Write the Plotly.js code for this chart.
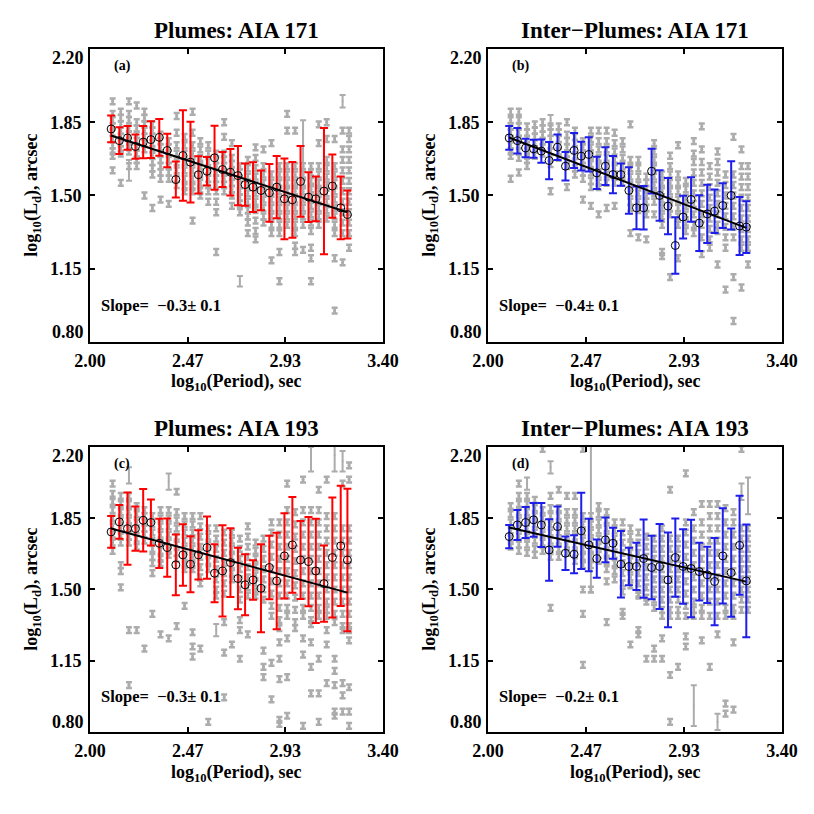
<!DOCTYPE html>
<html><head><meta charset="utf-8">
<script src="https://cdn.plot.ly/plotly-3.0.1.min.js"></script>
<style>html,body{margin:0;padding:0;background:#fff}#chart{width:814px;height:814px}</style>
</head><body><div id="chart"></div>
<script>
// ---------- DATA ----------
const binX = [2.101, 2.140, 2.179, 2.217, 2.254, 2.291, 2.331, 2.369, 2.410, 2.444, 2.480, 2.518, 2.559, 2.595, 2.633, 2.671, 2.707, 2.741, 2.779, 2.817, 2.857, 2.892, 2.929, 2.967, 3.006, 3.044, 3.079, 3.118, 3.158, 3.198, 3.230];
const grayX = [2.108, 2.147, 2.186, 2.223, 2.260, 2.298, 2.337, 2.376, 2.414, 2.452, 2.490, 2.527, 2.565, 2.603, 2.641, 2.678, 2.716, 2.754, 2.791, 2.829, 2.867, 2.905, 2.942, 2.980, 3.018, 3.056, 3.093, 3.131, 3.169, 3.207, 3.238];

// Panel (a) Plumes AIA 171
const aBinY = [1.818,1.762,1.775,1.734,1.755,1.767,1.778,1.715,1.576,1.691,1.659,1.599,1.616,1.680,1.624,1.611,1.595,1.552,1.540,1.524,1.513,1.540,1.484,1.479,1.567,1.492,1.484,1.521,1.545,1.441,1.409];
const aBinErr = [0.064,0.064,0.057,0.058,0.077,0.088,0.088,0.080,0.086,0.216,0.193,0.089,0.068,0.153,0.084,0.111,0.142,0.101,0.119,0.095,0.138,0.149,0.193,0.181,0.169,0.119,0.107,0.302,0.151,0.150,0.115];
const aGrayY = [
 [1.95,1.89,1.86,1.83,1.80,1.77,1.74,1.71,1.69,1.62],
 [1.90,1.87,1.84,1.81,1.78,1.75,1.72,1.70,1.56],
 [1.95,1.89,1.86,1.82,1.79,1.76,1.73,1.71,1.64],
 [1.93,1.85,1.82,1.79,1.76,1.73,1.70,1.67,1.64],
 [1.90,1.87,1.84,1.81,1.78,1.75,1.72,1.50],
 [1.84,1.81,1.78,1.75,1.72,1.69,1.66,1.63,1.60,1.44],
 [1.79,1.76,1.73,1.70,1.67,1.64,1.61,1.58,1.48],
 [1.76,1.73,1.70,1.67,1.64,1.61,1.58,1.46],
 [1.88,1.80,1.74,1.70,1.66,1.62,1.58,1.55],
 [1.78,1.74,1.70,1.66,1.62,1.58,1.54,1.52],
 [1.90,1.80,1.74,1.70,1.66,1.62,1.58,1.54,1.52,1.38],
 [1.76,1.72,1.68,1.64,1.60,1.56,1.52,1.50],
 [1.74,1.70,1.66,1.62,1.58,1.55,1.52,1.47],
 [1.70,1.67,1.64,1.61,1.58,1.55,1.52,1.47,1.42,1.23],
 [1.85,1.78,1.70,1.67,1.64,1.61,1.58,1.55,1.52],
 [1.75,1.68,1.65,1.62,1.59,1.56,1.53,1.50,1.45],
 [1.64,1.61,1.58,1.55,1.52,1.49,1.46,1.42],
 [1.67,1.63,1.59,1.55,1.51,1.47,1.43,1.40,1.37,1.32],
 [1.73,1.68,1.63,1.59,1.55,1.51,1.47,1.43,1.38,1.33,1.29],
 [1.72,1.64,1.60,1.56,1.52,1.48,1.44,1.40,1.37],
 [1.75,1.60,1.56,1.52,1.48,1.44,1.40,1.36,1.32,1.19],
 [1.64,1.60,1.56,1.52,1.48,1.44,1.40,1.36,1.32,1.23,1.09],
 [1.89,1.81,1.64,1.60,1.56,1.52,1.48,1.44,1.40,1.36],
 [1.81,1.64,1.60,1.56,1.52,1.48,1.44,1.40,1.36,1.32,1.26,1.23],
 [1.64,1.60,1.56,1.52,1.48,1.44,1.40,1.36,1.24],
 [1.64,1.61,1.57,1.53,1.49,1.45,1.41,1.37,1.33,1.25,1.20,1.09],
 [1.84,1.75,1.64,1.60,1.56,1.52,1.48,1.44,1.40,1.36],
 [1.85,1.77,1.67,1.63,1.59,1.55,1.51,1.47,1.43,1.39],
 [1.77,1.64,1.60,1.56,1.52,1.48,1.44,1.40,1.36,1.32,1.20,0.95],
 [1.81,1.72,1.67,1.62,1.57,1.52,1.47,1.42,1.37,1.32,1.18],
 [1.81,1.77,1.72,1.67,1.62,1.57,1.52,1.47,1.42,1.37,1.32,1.25]
];
const aLongX = [2.186, 2.716, 3.018, 3.207];
const aLongY = [1.62, 1.09, 1.72, 1.95];
const aLongErr = [0.05, 0.025, 0.14, 0.03];

// Panel (b) Inter-Plumes AIA 171
const bBinY = [1.775,1.762,1.727,1.723,1.712,1.667,1.731,1.640,1.715,1.688,1.696,1.608,1.640,1.600,1.600,1.524,1.441,1.441,1.616,1.500,1.449,1.261,1.397,1.481,1.368,1.412,1.425,1.452,1.500,1.354,1.349];
const bBinErr = [0.057,0.061,0.044,0.043,0.056,0.089,0.061,0.068,0.084,0.069,0.082,0.077,0.090,0.089,0.053,0.111,0.102,0.104,0.107,0.121,0.134,0.135,0.102,0.106,0.133,0.139,0.104,0.107,0.163,0.139,0.124];
const bGrayY = [
 [1.90,1.86,1.83,1.80,1.77,1.74,1.71,1.69,1.58],
 [1.90,1.86,1.83,1.80,1.77,1.74,1.71,1.68,1.61],
 [1.83,1.80,1.77,1.74,1.71,1.69,1.67,1.64],
 [1.84,1.81,1.78,1.75,1.72,1.69],
 [1.85,1.82,1.79,1.76,1.73,1.70],
 [1.83,1.80,1.77,1.74,1.71,1.68,1.65,1.52],
 [1.83,1.80,1.77,1.74,1.71,1.68],
 [1.85,1.79,1.76,1.73,1.70,1.67,1.64,1.54],
 [1.81,1.78,1.75,1.72,1.69,1.66,1.63,1.60],
 [1.76,1.73,1.70,1.67,1.64,1.61,1.58,1.48],
 [1.81,1.77,1.73,1.69,1.65,1.61,1.57,1.54,1.45],
 [1.81,1.76,1.72,1.68,1.64,1.60,1.56,1.54,1.41],
 [1.81,1.76,1.72,1.68,1.64,1.60,1.56,1.44],
 [1.80,1.75,1.71,1.67,1.63,1.59,1.56,1.45],
 [1.76,1.72,1.68,1.64,1.60,1.56],
 [1.84,1.67,1.63,1.59,1.55,1.51,1.47,1.44,1.32],
 [1.67,1.63,1.59,1.55,1.51,1.47,1.43,1.30],
 [1.59,1.56,1.53,1.50,1.47,1.44,1.41,1.29],
 [1.75,1.71,1.67,1.63,1.59,1.55,1.51,1.47,1.41],
 [1.60,1.56,1.52,1.48,1.44,1.40,1.36,1.23,1.21],
 [1.69,1.64,1.60,1.56,1.52,1.48,1.44,1.41,1.11],
 [1.74,1.60,1.56,1.52,1.48,1.44,1.40,1.36,1.20],
 [1.57,1.53,1.49,1.45,1.41,1.37,1.33],
 [1.76,1.70,1.66,1.61,1.56,1.51,1.46,1.41,1.36,1.32],
 [1.83,1.72,1.66,1.61,1.56,1.51,1.46,1.41,1.36,1.30,1.22],
 [1.64,1.59,1.54,1.49,1.44,1.39,1.34,1.29,1.25],
 [1.71,1.66,1.61,1.56,1.51,1.46,1.41,1.36,1.33,1.17],
 [1.60,1.55,1.50,1.45,1.40,1.35,1.30,1.25,1.05],
 [1.78,1.60,1.55,1.50,1.45,1.40,1.35,1.30,1.11,0.90],
 [1.72,1.64,1.59,1.54,1.49,1.44,1.39,1.34,1.29,1.25,1.06],
 [1.64,1.59,1.54,1.49,1.44,1.39,1.34,1.29,1.25,1.17]
];
const bLongX = [2.298];
const bLongY = [1.86];
const bLongErr = [0.025];

// Panel (c) Plumes AIA 193
const cBinY = [1.783,1.832,1.799,1.799,1.840,1.829,1.727,1.706,1.621,1.670,1.624,1.670,1.706,1.580,1.591,1.632,1.554,1.523,1.547,1.506,1.608,1.542,1.665,1.719,1.645,1.637,1.591,1.529,1.657,1.714,1.645];
const cBinErr = [0.078,0.083,0.178,0.109,0.153,0.113,0.121,0.143,0.149,0.151,0.138,0.121,0.153,0.142,0.224,0.169,0.151,0.150,0.097,0.216,0.156,0.237,0.209,0.235,0.192,0.219,0.256,0.187,0.295,0.295,0.350];
const cGrayY = [
 [2.02,1.97,1.93,1.89,1.85,1.81,1.77,1.73,1.69],
 [1.96,1.92,1.88,1.84,1.80,1.76,1.73,1.62,1.59,1.51],
 [1.96,1.92,1.88,1.84,1.80,1.76,1.73,1.30,1.03],
 [1.91,1.87,1.83,1.79,1.75,1.71,1.30],
 [1.89,1.86,1.83,1.80,1.77,1.74,1.21],
 [1.86,1.82,1.78,1.74,1.70,1.66,1.63,1.58,1.38],
 [1.89,1.85,1.81,1.77,1.73,1.69,1.65,1.63,1.28],
 [1.89,1.85,1.81,1.77,1.73,1.69,1.67,1.26],
 [1.98,1.88,1.84,1.80,1.76,1.72,1.68,1.65,1.32],
 [1.86,1.82,1.78,1.74,1.70,1.66,1.62,1.60,1.42],
 [1.86,1.82,1.78,1.74,1.70,1.66,1.62,1.60,1.29,1.22,1.17],
 [1.86,1.81,1.76,1.71,1.66,1.61,1.56,1.53,1.21],
 [1.80,1.76,1.72,1.68,1.64,1.60,0.85],
 [1.80,1.75,1.70,1.65,1.60,1.55,1.50,1.47],
 [1.78,1.73,1.68,1.63,1.58,1.53,1.48,1.34,1.19,0.97],
 [1.78,1.74,1.70,1.66,1.62,1.58,1.55,1.23],
 [1.75,1.70,1.65,1.60,1.55,1.50,1.45,1.35,1.30,1.16],
 [1.81,1.76,1.71,1.66,1.61,1.56,1.51,1.47,1.28],
 [1.73,1.69,1.65,1.61,1.57,1.53,1.49,1.47],
 [1.75,1.70,1.65,1.60,1.55,1.50,1.45,1.20,1.12,1.07],
 [1.83,1.78,1.72,1.66,1.60,1.54,1.48,1.42,1.37,1.14,0.96],
 [1.83,1.77,1.71,1.65,1.59,1.53,1.47,1.41,1.35,1.31,1.24,1.16,1.06,0.86,0.84],
 [2.02,1.89,1.83,1.77,1.71,1.65,1.59,1.53,1.47,1.41,1.37,1.26,1.07,0.88],
 [1.88,1.82,1.76,1.70,1.64,1.58,1.52,1.46,1.40,1.34,1.31],
 [2.04,1.89,1.83,1.77,1.71,1.65,1.59,1.53,1.47,1.41,1.37,1.26,1.18,0.83],
 [1.89,1.83,1.77,1.71,1.65,1.59,1.53,1.47,1.41,1.35,1.33,1.24,1.12,0.99],
 [1.99,1.89,1.83,1.77,1.71,1.65,1.59,1.53,1.47,1.41,1.37,1.16,0.99,0.85],
 [2.04,1.86,1.80,1.74,1.68,1.62,1.56,1.50,1.44,1.40,1.37,1.30,1.23,1.04],
 [1.86,1.80,1.74,1.68,1.62,1.56,1.50,1.44,1.38,1.34,1.16,1.10,1.03,0.90,0.88],
 [2.02,1.80,1.74,1.68,1.62,1.56,1.50,1.44,1.38,1.32,1.30,1.04,0.98,0.90],
 [2.11,2.04,1.80,1.74,1.68,1.62,1.56,1.50,1.44,1.38,1.32,1.30,1.25,1.02,0.90,0.83]
];
const cLongX = [2.186, 2.376, 2.603, 3.056, 3.169, 3.207];
const cLongY = [2.06, 2.03, 1.30, 2.14, 2.16, 2.13];
const cLongErr = [0.04, 0.04, 0.03, 0.06, 0.08, 0.05];

// Panel (d) Inter-Plumes AIA 193
const dBinY = [1.760,1.817,1.829,1.842,1.817,1.694,1.809,1.678,1.673,1.788,1.719,1.652,1.744,1.727,1.624,1.613,1.613,1.652,1.608,1.613,1.547,1.657,1.613,1.603,1.588,1.572,1.539,1.665,1.583,1.717,1.542];
const dBinErr = [0.057,0.074,0.076,0.083,0.108,0.151,0.099,0.082,0.093,0.187,0.129,0.094,0.110,0.076,0.163,0.092,0.116,0.192,0.156,0.209,0.233,0.192,0.183,0.239,0.142,0.138,0.214,0.234,0.217,0.243,0.277];
const dGrayY = [
 [1.91,1.87,1.83,1.79,1.75,1.71],
 [2.02,1.96,1.92,1.88,1.84,1.80,1.76,1.72,1.69],
 [1.96,1.92,1.88,1.84,1.80,1.76,1.72,1.68],
 [1.94,1.90,1.86,1.82,1.78,1.74,1.70,1.67],
 [2.19,1.89,1.85,1.81,1.77,1.73,1.69],
 [1.96,1.90,1.86,1.82,1.78,1.74,1.70,1.66,1.41],
 [1.99,1.90,1.86,1.82,1.78,1.74,1.70,1.66],
 [1.96,1.88,1.84,1.80,1.76,1.72,1.68],
 [1.96,1.88,1.84,1.80,1.76,1.72,1.68,1.64],
 [2.19,1.86,1.82,1.78,1.74,1.70,1.66,1.62,1.50,1.38,1.13],
 [1.86,1.82,1.78,1.74,1.70,1.66,1.62,1.50],
 [1.91,1.87,1.83,1.79,1.75,1.71,1.67,1.64],
 [1.88,1.84,1.80,1.76,1.72,1.68,1.64,1.60,1.54,1.34],
 [1.83,1.79,1.75,1.71,1.67,1.63,1.59,1.55],
 [1.83,1.78,1.73,1.68,1.63,1.58,1.53,1.49,1.39,1.37],
 [1.80,1.76,1.72,1.68,1.64,1.60,1.56,1.52,1.23],
 [1.78,1.73,1.68,1.63,1.58,1.53,1.48,1.47,1.30,1.28],
 [1.76,1.71,1.66,1.61,1.56,1.51,1.46,1.44,1.16],
 [1.75,1.70,1.65,1.60,1.55,1.50,1.45,1.41,1.21,1.16],
 [1.80,1.75,1.70,1.65,1.60,1.55,1.50,1.45,1.40,1.37,1.26,1.16],
 [1.99,1.75,1.70,1.65,1.60,1.55,1.50,1.45,1.40,1.37,1.08,0.85],
 [1.75,1.70,1.65,1.60,1.55,1.50,1.45,1.40,1.37,1.12],
 [2.07,1.83,1.78,1.72,1.66,1.60,1.54,1.48,1.42,1.37,1.27,1.22],
 [1.88,1.80,1.74,1.68,1.62,1.56,1.50,1.44,1.40,1.37],
 [1.92,1.83,1.77,1.71,1.65,1.59,1.53,1.47,1.41,1.37,1.25],
 [1.92,1.86,1.80,1.74,1.68,1.62,1.56,1.50,1.44,1.37,1.12],
 [1.92,1.86,1.80,1.74,1.68,1.62,1.56,1.50,1.44,1.37,1.28],
 [1.90,1.83,1.77,1.71,1.65,1.59,1.53,1.47,1.41,1.37,0.94,0.89],
 [1.88,1.83,1.77,1.71,1.65,1.59,1.53,1.47,1.41,1.37,1.24,0.91],
 [2.19,1.80,1.75,1.70,1.65,1.60,1.55,1.50,1.45,1.40],
 [1.80,1.75,1.70,1.65,1.60,1.55,1.50,1.45,1.40]
];
const dLongX = [2.186, 2.298, 2.490, 2.980, 3.093, 3.207, 3.238];
const dLongY = [2.02, 2.10, 1.845, 0.93, 0.85, 1.98, 1.96];
const dLongErr = [0.03, 0.03, 0.36, 0.10, 0.04, 0.04, 0.09];

// Linear fits
const fitX = [2.10, 3.23];
const fitSlope = [-0.3245, -0.3823, -0.2784, -0.2351];
const fitIntercept = [2.468, 2.580, 2.384, 2.298];

const panelTitles = ['Plumes: AIA 171', 'Inter\u2212Plumes: AIA 171', 'Plumes: AIA 193', 'Inter\u2212Plumes: AIA 193'];
const panelLetters = ['(a)', '(b)', '(c)', '(d)'];
const slopeTexts = ['\u22120.3\u00b1 0.1', '\u22120.4\u00b1 0.1', '\u22120.3\u00b1 0.1', '\u22120.2\u00b1 0.1'];
const xTickVals = [2.0, 2.4667, 2.9333, 3.4];
const xTickText = ['2.00', '2.47', '2.93', '3.40'];
const yTickVals = [1.15, 1.5, 1.85];
const yTickText = ['1.15', '1.50', '1.85'];
const yEndLabels = ['0.80', '2.20'];

// ---------- STYLE ----------
const FONT = 'Liberation Serif';
const GRAY = 'rgb(172,172,172)';
const RED = 'rgb(255,0,0)';
const BLUE = 'rgb(30,30,235)';

const panels = [
  {gy: aGrayY, lx: aLongX, ly: aLongY, le: aLongErr, by: aBinY, be: aBinErr, col: RED},
  {gy: bGrayY, lx: bLongX, ly: bLongY, le: bLongErr, by: bBinY, be: bBinErr, col: BLUE},
  {gy: cGrayY, lx: cLongX, ly: cLongY, le: cLongErr, by: cBinY, be: cBinErr, col: RED},
  {gy: dGrayY, lx: dLongX, ly: dLongY, le: dLongErr, by: dBinY, be: dBinErr, col: BLUE}
];
const xDomains = [[0.1106, 0.4705], [0.5995, 0.9607], [0.1106, 0.4705], [0.5995, 0.9607]];
const yDomains = [[0.5799, 0.9398], [0.5799, 0.9398], [0.1007, 0.4509], [0.1007, 0.4509]];
const titleY = [0.962, 0.962, 0.474, 0.474];
const xTitleY = [0.530, 0.530, 0.050, 0.050];

const traces = [];
const layout = {
  width: 814, height: 814, margin: {l: 0, r: 0, t: 0, b: 0},
  paper_bgcolor: 'white', plot_bgcolor: 'white', showlegend: false,
  font: {family: FONT, color: 'black', weight: 700},
  annotations: []
};

panels.forEach((p, k) => {
  const n = k === 0 ? '' : String(k + 1);
  const xa = 'x' + n, ya = 'y' + n;
  const gx = [], gyv = [];
  p.gy.forEach((col, i) => col.forEach(v => { gx.push(grayX[i]); gyv.push(v); }));
  traces.push({type: 'scatter', mode: 'markers', x: gx, y: gyv, xaxis: xa, yaxis: ya,
    marker: {size: 3, color: GRAY}, hoverinfo: 'skip',
    error_y: {type: 'constant', value: 0.014, color: GRAY, thickness: 2.5, width: 3}});
  traces.push({type: 'scatter', mode: 'markers', x: p.lx, y: p.ly, xaxis: xa, yaxis: ya,
    marker: {size: 2, color: GRAY}, hoverinfo: 'skip',
    error_y: {type: 'data', array: p.le, color: GRAY, thickness: 2, width: 3}});
  traces.push({type: 'scatter', mode: 'markers', x: binX, y: p.by, xaxis: xa, yaxis: ya,
    marker: {symbol: 'circle-open', size: 8, color: 'black', line: {width: 1, color: 'black'}},
    error_y: {type: 'data', array: p.be, color: p.col, thickness: 2, width: 4}});
  traces.push({type: 'scatter', mode: 'lines', x: fitX,
    y: fitX.map(v => fitIntercept[k] + fitSlope[k] * v), xaxis: xa, yaxis: ya,
    line: {color: 'black', width: 2}});

  const tf = {family: FONT, size: 18, color: 'black', weight: 700};
  const axCommon = {showline: true, linewidth: 2, linecolor: 'black', mirror: 'allticks',
    ticks: 'inside', ticklen: 5, tickwidth: 2, tickcolor: 'black', showgrid: false, zeroline: false,
    tickfont: tf};
  layout['xaxis' + n] = Object.assign({}, axCommon, {domain: xDomains[k], range: [2.0, 3.4],
    anchor: ya, tickmode: 'array', tickvals: xTickVals, ticktext: xTickText, ticklabelstandoff: 1});
  layout['yaxis' + n] = Object.assign({}, axCommon, {domain: yDomains[k], range: [0.8, 2.2],
    anchor: xa, tickmode: 'array', tickvals: yTickVals, ticktext: yTickText, ticklabelstandoff: 3});

  const xc = (xDomains[k][0] + xDomains[k][1]) / 2;
  const ytop = yDomains[k][1];
  const ybot = yDomains[k][0];
  const A = layout.annotations;
  A.push({xref: 'paper', yref: 'paper', x: xc, y: titleY[k], yanchor: 'middle', xanchor: 'center',
    text: panelTitles[k], showarrow: false, font: {family: FONT, size: 23, weight: 700}});
  A.push({xref: 'paper', yref: 'paper', x: xc, y: xTitleY[k], yanchor: 'middle', xanchor: 'center',
    text: 'log<sub>10</sub>(Period), sec', showarrow: false, font: {family: FONT, size: 18, weight: 700}});
  A.push({xref: 'paper', yref: 'paper', x: xDomains[k][0] - 0.071, y: (ytop + ybot) / 2, xanchor: 'center', yanchor: 'middle',
    textangle: -90, text: 'log<sub>10</sub>(L<sub>d</sub>), arcsec', showarrow: false, font: {family: FONT, size: 18, weight: 700}});
  A.push({xref: xa, yref: ya, x: 2.105, y: 2.118, xanchor: 'left', yanchor: 'middle',
    text: panelLetters[k], showarrow: false, font: {family: FONT, size: 14, weight: 700}});
  A.push({xref: xa, yref: ya, x: 2.045, y: 0.975, xanchor: 'left', yanchor: 'middle',
    text: 'Slope=\u00a0\u00a0' + slopeTexts[k], showarrow: false, font: {family: FONT, size: 16.5, weight: 700}});
  A.push({xref: 'paper', yref: ya, x: xDomains[k][0], y: 0.8, xanchor: 'right', yanchor: 'bottom', xshift: -4, yshift: -2,
    text: yEndLabels[0], showarrow: false, font: {family: FONT, size: 18, weight: 700}});
  A.push({xref: 'paper', yref: ya, x: xDomains[k][0], y: 2.2, xanchor: 'right', yanchor: 'top', xshift: -4, yshift: 3,
    text: yEndLabels[1], showarrow: false, font: {family: FONT, size: 18, weight: 700}});
});

Plotly.newPlot('chart', traces, layout, {staticPlot: true, displayModeBar: false});
</script>
</body></html>
